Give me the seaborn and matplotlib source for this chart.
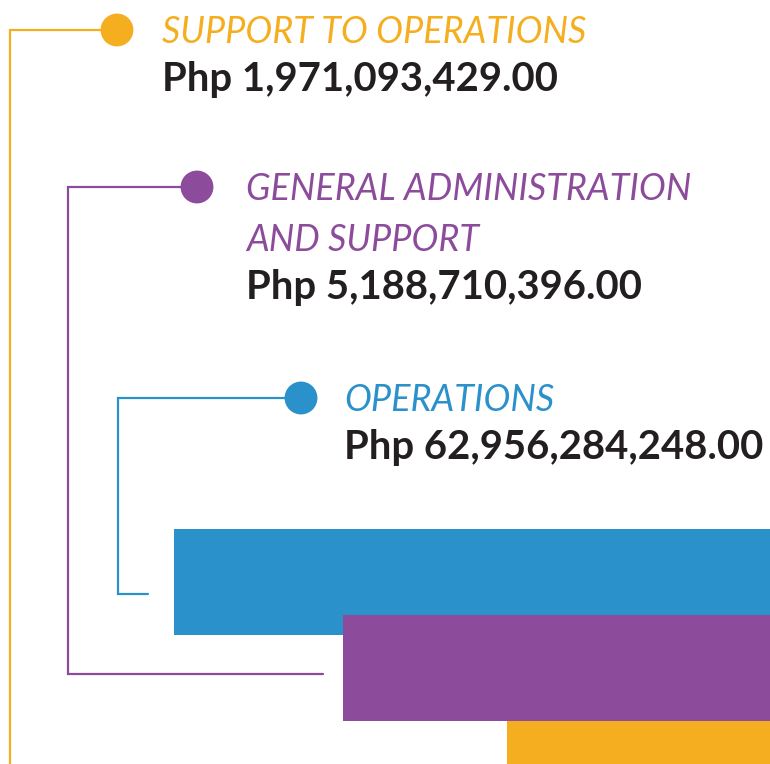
import matplotlib
matplotlib.use("Agg")
import matplotlib.pyplot as plt
import seaborn as sns
import pandas as pd

# data
programs = ["SUPPORT TO OPERATIONS", "GENERAL ADMINISTRATION\nAND SUPPORT", "OPERATIONS"]
amounts = [1971093429.00, 5188710396.00, 62956284248.00]
colors = ["#F5AE1F", "#8C4C9B", "#2A91CB"]

# layout (pixel units, y downward)
W, H = 770, 764
dot_x = [117, 197, 301]
dot_y = [30, 187, 398]
elbow_x = [10, 68, 118]
end_y = [H + 5, 674, 594]
end_x = [10, 323, 148]
text_x = [162, 246, 344]
bar_left = [507, 343, 174]
bar_top = [721, 615, 529]
bar_h = 106

sns.set_style("white")
plt.rcParams["font.family"] = ["Lato", "DejaVu Sans"]

fig = plt.figure(figsize=(W / 100, H / 100), dpi=100)
ax = fig.add_axes([0, 0, 1, 1])
ax.set_xlim(0, W)
ax.set_ylim(H, 0)
ax.axis("off")

# bars: blue first, then purple, then orange on top
for i in [2, 1, 0]:
    ax.barh(bar_top[i] + bar_h / 2, W - bar_left[i], left=bar_left[i],
            height=bar_h, color=colors[i], linewidth=0, zorder=2)

# connector lines
for i in range(3):
    ax.plot([dot_x[i], elbow_x[i], elbow_x[i], end_x[i]],
            [dot_y[i], dot_y[i], end_y[i], end_y[i]],
            color=colors[i], lw=1.6, zorder=1, solid_joinstyle="miter")

dots = pd.DataFrame({"x": dot_x, "y": dot_y, "program": programs})
sns.scatterplot(data=dots, x="x", y="y", hue="program", palette=colors,
                s=560, linewidth=0, legend=False, ax=ax, zorder=3)

# labels
label_base = [43, 200, 411]
for i in range(3):
    lines = programs[i].split("\n")
    for j, line in enumerate(lines):
        ax.text(text_x[i], label_base[i] + 51 * j, line, color=colors[i],
                fontsize=25.9, fontstyle="italic", va="baseline", ha="left")
    amt_y = label_base[i] + 51 * len(lines) - 3
    ax.text(text_x[i], amt_y, "Php {:,.2f}".format(amounts[i]), color="#231F20",
            fontsize=28.8, fontweight="bold", va="baseline", ha="left")

fig.savefig("out.png", dpi=100)
